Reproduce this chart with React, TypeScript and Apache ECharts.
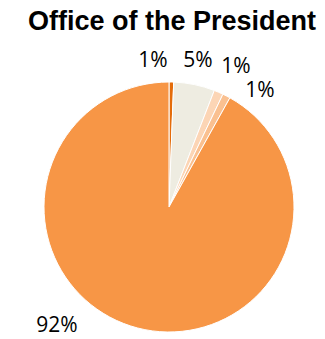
import React, { useEffect, useRef } from "react";
import * as echarts from "echarts";

const categories = ["A", "B", "C", "D", "E"];
const values = [0.6, 5.3, 1.2, 1.0, 91.9];
const labels = ["1%", "5%", "1%", "1%", "92%"];
const colors = ["#E46C0A", "#EEECE1", "#FCD5B5", "#FAC090", "#F79646"];

export default function App() {
  const ref = useRef<HTMLDivElement>(null);
  useEffect(() => {
    const chart = echarts.init(ref.current!, null, { renderer: "svg" });
    const labelPos = [
      [153, 59],
      [198, 59],
      [236, 65],
      [260, 89],
      [57, 324],
    ];
    chart.setOption({
      animation: false,
      title: {
        text: "Office of the President",
        left: 167,
        textAlign: "center",
        top: 2,
        textStyle: { fontFamily: "Arial, Liberation Sans", fontWeight: "bold", fontSize: 27, color: "#000" },
      },
      series: [
        {
          type: "pie",
          center: [169, 207],
          radius: 125,
          startAngle: 90,
          clockwise: true,
          avoidLabelOverlap: false,
          data: categories.map((c, i) => ({ name: c, value: values[i], itemStyle: { color: colors[i] } })),
          itemStyle: { borderColor: "#fff", borderWidth: 1 },
          label: {
            show: true,
            position: "outside",
            overflow: "none",
            formatter: (p: any) => labels[p.dataIndex],
            fontFamily: "Open Sans, Noto Sans",
            fontSize: 21,
            lineHeight: 22,
            color: "#000",
          },
          labelLine: { show: false },
          labelLayout: (p: any) => ({
            x: labelPos[p.dataIndex][0],
            y: labelPos[p.dataIndex][1],
            align: "center",
            verticalAlign: "middle",
            hideOverlap: false,
          }),
        },
      ],
    });
    return () => chart.dispose();
  }, []);
  return <div ref={ref} style={{ width: 325, height: 339, position: "absolute", left: 0, top: 0 }} />;
}
